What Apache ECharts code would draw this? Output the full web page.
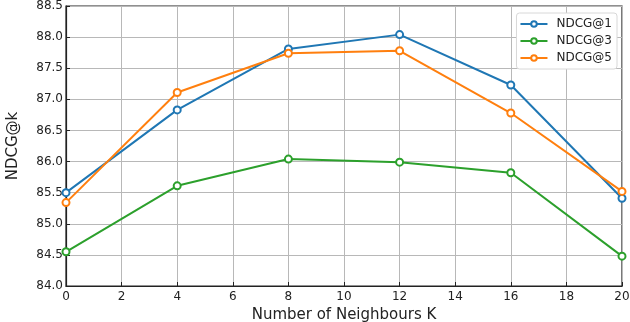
<!DOCTYPE html>
<html><head><meta charset="utf-8">
<script src="https://cdn.jsdelivr.net/npm/echarts@6/dist/echarts.min.js"></script>
<style>html,body{margin:0;padding:0;background:#fff}#c{width:630px;height:322px}</style>
</head><body><div id="c"></div>
<script>
const kValues = [0, 4, 8, 12, 16, 20];
const ndcg1 = [85.50, 86.83, 87.81, 88.04, 87.23, 85.41];
const ndcg3 = [84.55, 85.61, 86.04, 85.99, 85.82, 84.48];
const ndcg5 = [85.34, 87.11, 87.74, 87.78, 86.78, 85.52];
const seriesNames = ['NDCG@1', 'NDCG@3', 'NDCG@5'];
const colors = ['#1f77b4', '#2ca02c', '#ff7f0e'];
const font = 'DejaVu Sans';
const chart = echarts.init(document.getElementById('c'), null, {renderer: 'canvas'});
const mk = (name, vals, color) => ({
  name, type: 'line', data: kValues.map((k, i) => [k, vals[i]]),
  symbol: 'emptyCircle', symbolSize: 7,
  lineStyle: {color, width: 2}, itemStyle: {color, borderColor: color, borderWidth: 1.3},
  emphasis: {disabled: true}, animation: false
});
chart.setOption({
  backgroundColor: '#fff',
  color: colors,
  grid: {left: 66, right: 8, top: 6, bottom: 36, outerBoundsMode: 'none', containLabel: false,
         show: true, borderColor: '#222', borderWidth: 1.2, backgroundColor: 'transparent'},
  legend: {
    orient: 'vertical', right: 13, top: 13, itemWidth: 27, itemHeight: 7, itemGap: 5,
    backgroundColor: '#fff', borderColor: '#d8d8d8', borderWidth: 1, borderRadius: 3, padding: [5, 5, 5, 3],
    textStyle: {fontFamily: font, fontSize: 12, color: '#222', padding: [0, 0, 0, 4]},
    data: seriesNames
  },
  xAxis: {
    type: 'value', min: 0, max: 20, interval: 2,
    name: 'Number of Neighbours K', nameLocation: 'middle', nameGap: 19,
    nameTextStyle: {fontFamily: font, fontSize: 15, color: '#222'},
    axisLine: {show: true, lineStyle: {color: '#222', width: 1.2}},
    axisTick: {show: true, inside: true, length: 4, lineStyle: {color: '#222'}},
    axisLabel: {fontFamily: font, fontSize: 12, color: '#222', margin: 5},
    splitLine: {show: true, lineStyle: {color: '#b8b8b8', width: 1}}
  },
  yAxis: {
    type: 'value', min: 84, max: 88.5, interval: 0.5,
    name: 'NDCG@k', nameLocation: 'middle', nameGap: 45,
    nameTextStyle: {fontFamily: font, fontSize: 15, color: '#222'},
    axisLine: {show: true, lineStyle: {color: '#222', width: 1.2}},
    axisTick: {show: true, inside: true, length: 4, lineStyle: {color: '#222'}},
    axisLabel: {fontFamily: font, fontSize: 12, color: '#222', margin: 3, formatter: v => v.toFixed(1)},
    splitLine: {show: true, lineStyle: {color: '#b8b8b8', width: 1}}
  },
  series: [mk(seriesNames[0], ndcg1, colors[0]), mk(seriesNames[1], ndcg3, colors[1]), mk(seriesNames[2], ndcg5, colors[2])]
});
</script></body></html>
